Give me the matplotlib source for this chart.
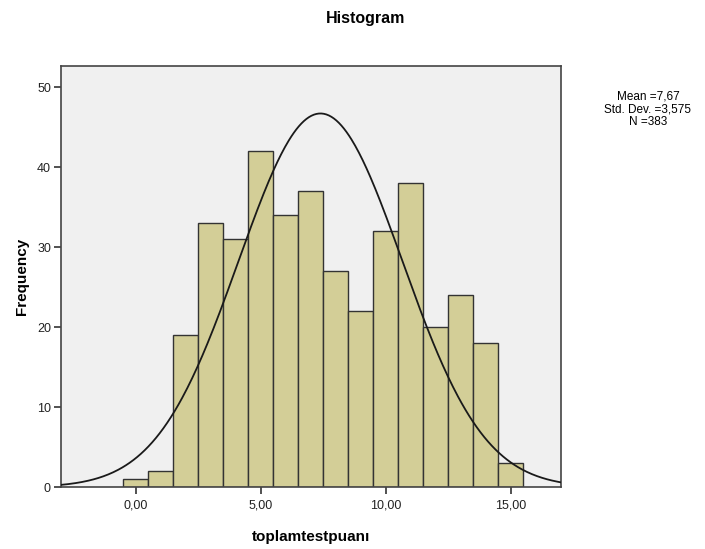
import numpy as np
import matplotlib
matplotlib.use('Agg')
import matplotlib.pyplot as plt

plt.rcParams['font.family'] = ['Liberation Sans', 'DejaVu Sans']

# histogram data (bins of width 1, centred on integers)
scores = [0, 1, 2, 3, 4, 5, 6, 7, 8, 9, 10, 11, 12, 13, 14, 15]
freq = [1, 2, 19, 33, 31, 42, 34, 37, 27, 22, 32, 38, 20, 24, 18, 3]

# normal curve as drawn in the picture
curve_mean = 7.39
curve_sd = 3.27
n_total = 383
stats_lines = ['Mean =7,67', 'Std. Dev. =3,575', 'N =383']

xticks = [0, 5, 10, 15]
xtick_labels = ['0,00', '5,00', '10,00', '15,00']
yticks = [0, 10, 20, 30, 40, 50]

fig = plt.figure(figsize=(7.05, 5.49), dpi=100)
ax = fig.add_axes([60.7 / 705, 1 - 487.3 / 549, 500 / 705, 421.3 / 549])
ax.set_facecolor('#f0f0f0')

ax.bar(scores, freq, width=1.0, color='#d3ce97', edgecolor='#333333', linewidth=1.0, zorder=2)

xs = np.linspace(-3, 17, 400)
ys = n_total * 1.0 / (curve_sd * np.sqrt(2 * np.pi)) * np.exp(-(xs - curve_mean) ** 2 / (2 * curve_sd ** 2))
ax.plot(xs, ys, color='#1a1a1a', linewidth=1.3, zorder=3)

ax.set_xlim(-3, 17)
ax.set_ylim(0, 52.66)
ax.set_xticks(xticks)
ax.set_xticklabels(xtick_labels)
ax.set_yticks(yticks)
ax.tick_params(axis='both', labelsize=9, labelcolor='#222222', color='#333333', length=5, width=1.2, direction='out')
ax.tick_params(axis='x', pad=4)
ax.tick_params(axis='y', pad=2)
ax.tick_params(top=False, right=False)
for s in ax.spines.values():
    s.set_color('#444444')
    s.set_linewidth(1.2)

ax.set_xlabel('toplamtestpuanı', fontsize=11, fontweight='bold', labelpad=13)
ax.set_ylabel('Frequency', fontsize=11, fontweight='bold', labelpad=6)
fig.text(366 / 705, 1 - 18 / 549, 'Histogram', fontsize=11.5, fontweight='bold', ha='center', va='center')

fig.text(648 / 705, 1 - 109 / 549, '\n'.join(stats_lines), fontsize=8.5, ha='center', va='center', linespacing=1.08)

fig.savefig('out.png', dpi=100)
